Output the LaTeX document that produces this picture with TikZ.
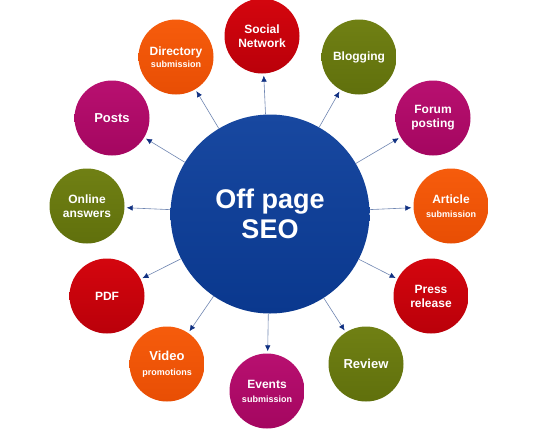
\documentclass[tikz,border=0pt]{standalone}
\usepackage{fontspec}
\setmainfont{Liberation Sans}
\usetikzlibrary{arrows.meta}
\definecolor{blueA}{RGB}{24,72,160}
\definecolor{blueB}{RGB}{10,56,142}
\definecolor{redA}{RGB}{212,6,14}
\definecolor{redB}{RGB}{186,0,10}
\definecolor{orA}{RGB}{246,92,12}
\definecolor{orB}{RGB}{232,78,4}
\definecolor{grA}{RGB}{112,128,20}
\definecolor{grB}{RGB}{96,112,12}
\definecolor{mgA}{RGB}{184,16,112}
\definecolor{mgB}{RGB}{164,6,96}
\definecolor{linec}{RGB}{112,134,178}
\definecolor{tipc}{RGB}{16,48,130}
\begin{document}
\begin{tikzpicture}[x=1pt,y=-1pt,
  sat/.style={circle, minimum size=75pt, inner sep=0pt, text=white, align=center,
    font=\fontsize{12}{14}\selectfont\bfseries},
  big/.style={font=\fontsize{13}{15}\selectfont\bfseries},
  sred/.style={sat, top color=redA, bottom color=redB},
  sor/.style={sat, top color=orA, bottom color=orB},
  sgr/.style={sat, top color=grA, bottom color=grB},
  smg/.style={sat, top color=mgA, bottom color=mgB},
  hub/.style={circle, minimum size=199pt, inner sep=0pt, top color=blueA, bottom color=blueB,
    text=white, align=center, font=\fontsize{27}{30}\selectfont\bfseries},
  link/.style={draw=linec, line width=0.6pt, shorten >=2pt,
    -{Latex[length=6pt,width=5.5pt,color=tipc]}},
  small/.style={}
]
\fill[white] (0,0) rectangle (553,429);
\useasboundingbox (0,0) rectangle (553,429);

\node[hub] (hub) at (270,214) {Off page\\SEO};

\node[sred] (soc) at (262,36) {Social\\Network};
\node[sor] (dir) at (176,57) {Directory\\[-2pt]{\fontsize{9}{10}\selectfont submission}};
\node[sgr] (blog) at (359,57) {Blogging};
\node[smg] (forum) at (433,118) {Forum\\posting};
\node[sor] (art) at (451,206) {Article\\{\fontsize{9}{10}\selectfont submission}};
\node[sred] (press) at (431,296) {Press\\release};
\node[sgr, big] (rev) at (366,364) {Review};
\node[smg] (evt) at (267,391) {Events\\{\fontsize{9}{10}\selectfont submission}};
\node[sor, big] (vid) at (167,364) {Video\\{\fontsize{9}{10}\selectfont promotions}};
\node[sred] (pdf) at (107,296) {PDF};
\node[sgr] (onl) at (87,206) {Online\\answers};
\node[smg, big] (posts) at (112,118) {Posts};

\foreach \t in {soc,dir,blog,forum,art,press,rev,evt,vid,pdf,onl,posts}
  \draw[link] (hub) -- (\t);
\end{tikzpicture}
\end{document}
